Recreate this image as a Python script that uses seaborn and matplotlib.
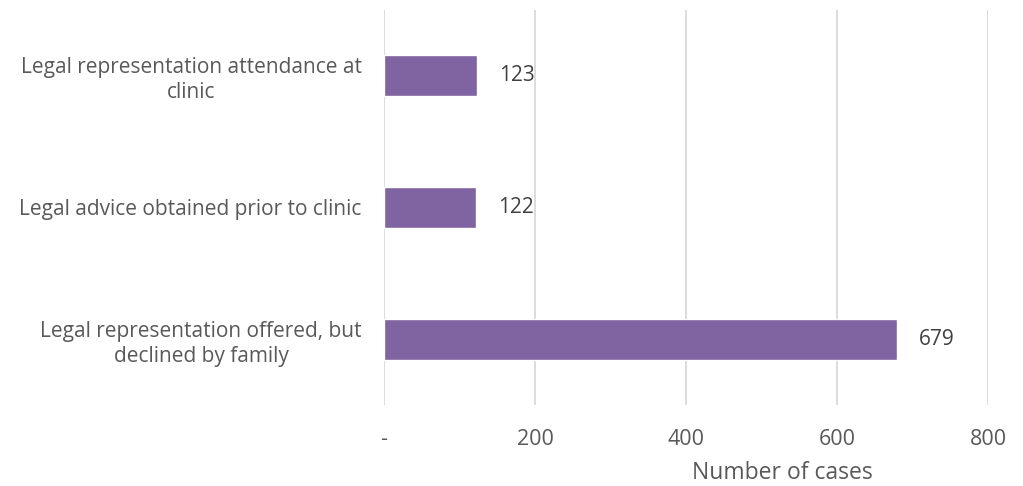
import matplotlib
matplotlib.use("Agg")
import matplotlib.pyplot as plt
import seaborn as sns
import pandas as pd
from matplotlib.ticker import FuncFormatter

categories = [
    "Legal representation attendance at\nclinic",
    "Legal advice obtained prior to clinic",
    "Legal representation offered, but\ndeclined by family",
]
cases = [123, 122, 679]
x_ticks = [0, 200, 400, 600, 800]

sns.set_theme(style="white")
plt.rcParams["font.family"] = ["Open Sans", "DejaVu Sans"]

df = pd.DataFrame({"category": categories, "cases": cases})

fig = plt.figure(figsize=(10.23, 4.86), dpi=100)
ax = fig.add_axes([0.3754, 0.1667, 0.5904, 0.8127])

sns.barplot(data=df, x="cases", y="category", orient="h", color="#8064A2",
            width=0.31, saturation=1, ax=ax)

ax.set_xlim(0, 800)
ax.set_xticks(x_ticks)
ax.xaxis.set_major_formatter(FuncFormatter(lambda v, p: "-" if v == 0 else f"{int(v)}"))
ax.grid(axis="x", color="#D9D9D9", linewidth=1.3)
ax.set_axisbelow(True)
for s in ax.spines.values():
    s.set_visible(False)

ax.tick_params(axis="x", length=0, pad=17, labelsize=15.5, labelcolor="#595959")
ax.tick_params(axis="y", length=0, pad=16, labelsize=15, labelcolor="#595959")
for lbl in ax.get_yticklabels():
    lbl.set_multialignment("center")
    lbl.set_linespacing(1.25)

ax.set_ylabel("")
ax.set_xlabel("Number of cases", fontsize=16.5, color="#595959")
ax.xaxis.set_label_coords(0.66, -0.172)
ax.xaxis.label.set_verticalalignment("center")

for i, v in enumerate(cases):
    ax.annotate(f"{v}", xy=(v, i), xytext=(16, 0), textcoords="offset points",
                va="center", ha="left", fontsize=15, color="#404040")

fig.savefig("out.png", dpi=100)
